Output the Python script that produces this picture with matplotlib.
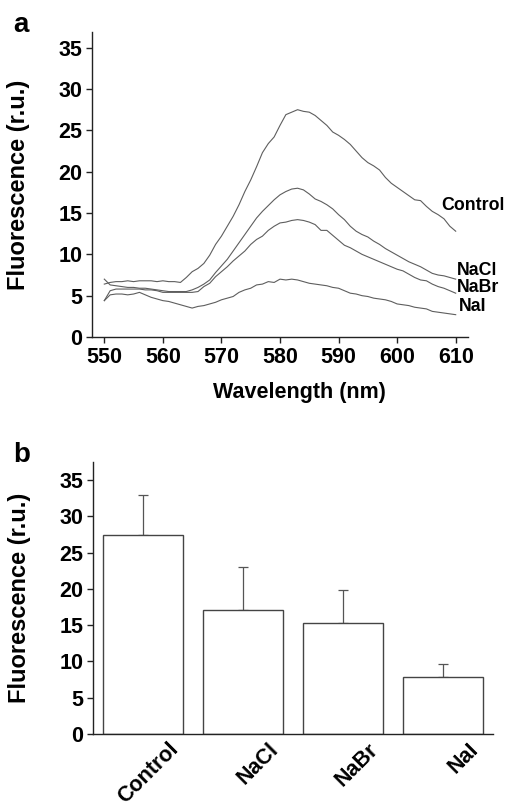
import numpy as np
import matplotlib
matplotlib.use("Agg")
import matplotlib.pyplot as plt
import matplotlib.transforms as mtransforms

plt.rcParams['font.family'] = ['Liberation Sans', 'DejaVu Sans']
plt.rcParams['font.weight'] = 'bold'

# ---------------- data ----------------
wavelength = list(range(550, 611))

control = [6.4, 6.6, 6.7, 6.7, 6.8, 6.7, 6.8, 6.8, 6.8, 6.7,
           6.8, 6.7, 6.7, 6.6, 7.2, 7.9, 8.3, 8.9, 9.9, 11.2,
           12.2, 13.4, 14.6, 16.0, 17.6, 19.0, 20.6, 22.3, 23.4, 24.2,
           25.6, 26.9, 27.2, 27.5, 27.3, 27.2, 26.8, 26.2, 25.6, 24.8,
           24.4, 23.9, 23.3, 22.5, 21.7, 21.1, 20.7, 20.2, 19.3, 18.6,
           18.1, 17.6, 17.1, 16.6, 16.5, 15.8, 15.2, 14.8, 14.3, 13.4,
           12.8]
nacl = [7.0, 6.3, 6.2, 6.1, 6.0, 6.0, 5.9, 5.9, 5.8, 5.7,
        5.6, 5.5, 5.5, 5.5, 5.5, 5.7, 6.0, 6.4, 6.9, 7.8,
        8.6, 9.4, 10.4, 11.4, 12.4, 13.4, 14.4, 15.2, 15.9, 16.6,
        17.2, 17.6, 17.9, 18.0, 17.8, 17.3, 16.7, 16.4, 16.0, 15.5,
        14.8, 14.2, 13.4, 12.8, 12.4, 12.1, 11.6, 11.2, 10.7, 10.3,
        9.9, 9.5, 9.1, 8.8, 8.5, 8.1, 7.7, 7.5, 7.4, 7.2,
        7.0]
nabr = [4.4, 5.6, 5.8, 5.8, 5.8, 5.8, 5.8, 5.7, 5.7, 5.6,
        5.4, 5.4, 5.4, 5.4, 5.4, 5.4, 5.5, 6.1, 6.5, 7.3,
        7.9, 8.5, 9.2, 9.8, 10.4, 11.2, 11.8, 12.2, 12.9, 13.4,
        13.8, 13.9, 14.1, 14.2, 14.1, 13.9, 13.6, 12.9, 12.9, 12.3,
        11.7, 11.1, 10.8, 10.4, 10.0, 9.7, 9.4, 9.1, 8.8, 8.5,
        8.2, 8.0, 7.6, 7.2, 6.9, 6.8, 6.4, 6.1, 5.9, 5.6,
        5.3]
nai = [4.4, 5.1, 5.2, 5.2, 5.1, 5.2, 5.4, 5.1, 4.8, 4.6,
       4.4, 4.3, 4.1, 3.9, 3.7, 3.5, 3.7, 3.8, 4.0, 4.2,
       4.5, 4.7, 4.9, 5.4, 5.7, 5.9, 6.3, 6.4, 6.7, 6.6,
       7.0, 6.9, 7.0, 6.9, 6.7, 6.5, 6.4, 6.3, 6.2, 6.0,
       5.9, 5.6, 5.3, 5.2, 5.0, 4.9, 4.7, 4.6, 4.5, 4.3,
       4.0, 3.9, 3.8, 3.6, 3.5, 3.4, 3.1, 3.0, 2.9, 2.8,
       2.7]

curve_names = ['Control', 'NaCl', 'NaBr', 'NaI']
label_pos_x = [607.6, 610.2, 610.2, 610.5]
label_pos_y = [15.9, 8.0, 6.0, 3.7]

bar_categories = ['Control', 'NaCl', 'NaBr', 'NaI']
bar_means = [27.4, 17.1, 15.3, 7.8]
bar_errors = [5.6, 5.9, 4.6, 1.8]

yticks = [0, 5, 10, 15, 20, 25, 30, 35]
xticks_a = [550, 560, 570, 580, 590, 600, 610]

# ---------------- figure ----------------
W, H = 506, 808
fig = plt.figure(figsize=(W / 100, H / 100), dpi=100)

line_col = '#5e5e5e'
tick_fs = 15.5

def style_axes(ax):
    for s in ['top', 'right']:
        ax.spines[s].set_visible(False)
    for s in ['left', 'bottom']:
        ax.spines[s].set_linewidth(1.0)
        ax.spines[s].set_color('#222222')
    ax.tick_params(axis='both', direction='out', length=4, width=1.0,
                   color='#222222', labelsize=tick_fs, pad=3)
    for lbl in ax.get_xticklabels() + ax.get_yticklabels():
        lbl.set_fontweight('bold')

# Panel a
axA = fig.add_axes([92 / W, 1 - 337 / H, 376 / W, 305 / H])
for series in [control, nacl, nabr, nai]:
    axA.plot(wavelength, series, color=line_col, lw=0.8)
axA.set_xlim(547.9, 612.1)
axA.set_ylim(0, 36.9)
axA.set_xticks(xticks_a)
axA.set_yticks(yticks)
style_axes(axA)
axA.set_xlabel('Wavelength (nm)', fontsize=15.5, fontweight='bold')
axA.xaxis.set_label_coords((299 - 92) / 376, -45 / 305)
axA.set_ylabel('Fluorescence (r.u.)', fontsize=17, fontweight='bold')
axA.yaxis.set_label_coords((31 - 93) / 376, 0.5)
for name, lx, ly in zip(curve_names, label_pos_x, label_pos_y):
    axA.text(lx, ly, name, fontsize=12.8, fontweight='bold', ha='left',
             va='center', clip_on=False)

# Panel b
axB = fig.add_axes([93 / W, 1 - 734 / H, 400 / W, 272 / H])
xpos = np.arange(len(bar_categories))
axB.bar(xpos, bar_means, width=0.8, facecolor='white', edgecolor='#444444',
        linewidth=1.0, zorder=2)
axB.errorbar(xpos, bar_means, yerr=[np.zeros(len(bar_errors)), bar_errors],
             fmt='none', ecolor='#555555', elinewidth=0.9, capsize=3.6,
             capthick=0.9, zorder=1)
axB.set_xlim(-0.5, 3.5)
axB.set_ylim(0, 37.5)
axB.set_yticks(yticks)
axB.set_xticks(xpos)
axB.set_xticklabels(bar_categories)
style_axes(axB)
axB.tick_params(axis='x', length=0, pad=9)
offset = mtransforms.ScaledTranslation(0.32, 0, fig.dpi_scale_trans)
for lbl in axB.get_xticklabels():
    lbl.set_rotation(45)
    lbl.set_rotation_mode('anchor')
    lbl.set_ha('right')
    lbl.set_va('center')
    lbl.set_fontsize(15.5)
    lbl.set_fontweight('bold')
    lbl.set_transform(lbl.get_transform() + offset)
axB.set_ylabel('Fluorescence (r.u.)', fontsize=17, fontweight='bold')
axB.yaxis.set_label_coords((31 - 93) / 400, 0.5)

# Panel letters
fig.text(13 / W, 1 - 32 / H, 'a', fontsize=20, fontweight='bold', va='baseline')
fig.text(13 / W, 1 - 462 / H, 'b', fontsize=20, fontweight='bold', va='baseline')

fig.savefig('out.png', dpi=100)
